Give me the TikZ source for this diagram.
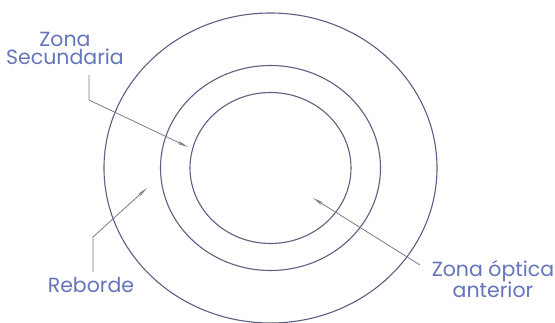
\documentclass[tikz,border=0pt]{standalone}
\usepackage{fontspec}
\setmainfont{Poppins}
\usetikzlibrary{arrows.meta}
\definecolor{ringcol}{HTML}{5C6182}
\definecolor{leadcol}{HTML}{7A7C88}
\definecolor{txtcol}{HTML}{6575BC}
\begin{document}
\begin{tikzpicture}[x=1pt,y=-1pt,
  ring/.style={draw=ringcol,line width=1.1pt},
  lbl/.style={text=txtcol,font=\fontsize{20.5}{18.5}\selectfont,align=center,inner sep=0pt},
  leader/.style={draw=leadcol,line width=0.8pt,-{Stealth[length=11pt,width=3.2pt]}}]
\useasboundingbox (0,0) rectangle (555,323);
\fill[white] (0,0) rectangle (555,323);
\coordinate (c) at (270.5,168);
\draw[ring] (c) ellipse [x radius=166.5, y radius=155];
\draw[ring] (c) ellipse [x radius=110, y radius=102.5];
\draw[ring] (c) ellipse [x radius=80.5, y radius=75.5];
\node[lbl] (zs) at (65,48.5) {Zona\\Secundaria};
\node[lbl] (reb) at (91,285) {Reborde};
\node[lbl] (zoa) at (493,279) {Zona óptica\\anterior};
\coordinate (zsa) at (89,75);
\coordinate (zsb) at (89,100);
\coordinate (zst) at (188,147);
\coordinate (rba) at (93,272);
\coordinate (rbb) at (93,237);
\coordinate (rbt) at (147,188);
\coordinate (zoaa) at (420,265);
\coordinate (zoat) at (313,198);
\draw[leader] (zsa) -- (zsb) -- (zst);
\draw[leader] (rba) -- (rbb) -- (rbt);
\draw[leader] (zoaa) -- (zoat);
\end{tikzpicture}
\end{document}
